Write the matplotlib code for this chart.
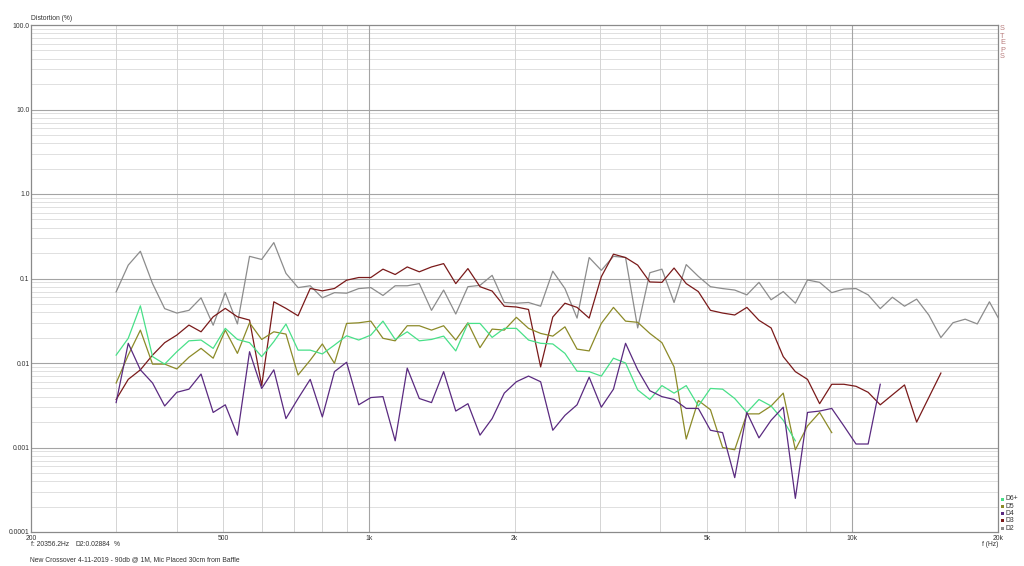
import numpy as np
import matplotlib
matplotlib.use('Agg')
from matplotlib import rcParams

rcParams['font.family'] = 'sans-serif'
rcParams['font.sans-serif'] = ['Liberation Sans', 'DejaVu Sans']

import matplotlib.pyplot as plt
from matplotlib.patches import Rectangle

# 1/12 octave steps from 300 Hz
freq = [300.0, 317.8, 336.7, 356.8, 378.0, 400.5, 424.3, 449.5, 476.2, 504.5, 534.5, 566.3,
        600.0, 635.7, 673.5, 713.5, 756.0, 800.9, 848.5, 899.0, 952.4, 1009, 1069, 1133,
        1200, 1271, 1347, 1427, 1512, 1602, 1697, 1798, 1905, 2018, 2138, 2265,
        2400, 2543, 2694, 2854, 3024, 3204, 3394, 3596, 3810, 4036, 4276, 4531,
        4800, 5085, 5388, 5708, 6048, 6407, 6788, 7192, 7619, 8073, 8553, 9061,
        9600, 10171, 10776, 11416, 12095, 12814, 13576, 14383, 15238, 16144, 17104, 18121,
        19198, 20356]

D2 = [0.0695, 0.144, 0.21, 0.087, 0.044, 0.039, 0.042, 0.059, 0.028, 0.068, 0.029, 0.183,
      0.168, 0.266, 0.115, 0.078, 0.082, 0.059, 0.068, 0.067, 0.076, 0.078, 0.063, 0.082,
      0.082, 0.087, 0.042, 0.073, 0.038, 0.080, 0.083, 0.109, 0.052, 0.051, 0.052, 0.047,
      0.122, 0.076, 0.034, 0.177, 0.125, 0.183, 0.177, 0.026, 0.117, 0.129, 0.052, 0.146,
      0.106, 0.080, 0.076, 0.073, 0.064, 0.090, 0.056, 0.070, 0.051, 0.096, 0.090, 0.068,
      0.075, 0.076, 0.064, 0.044, 0.060, 0.047, 0.057, 0.037, 0.020, 0.030, 0.033, 0.029,
      0.053, 0.02884]

D3 = [0.0037, 0.0064, 0.0083, 0.0124, 0.0174, 0.0214, 0.0281, 0.0234, 0.0352, 0.0443, 0.0352, 0.0322,
      0.0054, 0.053, 0.0443, 0.0362, 0.0762, 0.0714, 0.0762, 0.0955, 0.1027, 0.1027, 0.129, 0.1115,
      0.137, 0.120, 0.137, 0.150, 0.087, 0.131, 0.080, 0.071, 0.047, 0.046, 0.043, 0.009,
      0.035, 0.051, 0.0455, 0.034, 0.105, 0.194, 0.177, 0.144, 0.091, 0.090, 0.133, 0.087,
      0.070, 0.042, 0.039, 0.037, 0.0455, 0.032, 0.026, 0.0119, 0.0079, 0.0064, 0.0033, 0.0056,
      0.0056, 0.0053, 0.0045, 0.0032, 0.0042, 0.0055, 0.0020, 0.0039, 0.0076]

D4 = [0.0034, 0.0171, 0.0083, 0.0058, 0.0031, 0.0045, 0.0049, 0.0074, 0.0026, 0.0032, 0.0014, 0.0136,
      0.0050, 0.0083, 0.0022, 0.0038, 0.0064, 0.0023, 0.0079, 0.0102, 0.0032, 0.0039, 0.0040, 0.0012,
      0.0087, 0.0038, 0.0034, 0.0079, 0.0027, 0.0033, 0.0014, 0.0022, 0.0044, 0.0060, 0.0070, 0.0060,
      0.0016, 0.0024, 0.0032, 0.0068, 0.0030, 0.0049, 0.0171, 0.0083, 0.0047, 0.0040, 0.0037, 0.0029,
      0.0029, 0.0016, 0.0015, 0.00044, 0.0026, 0.0013, 0.0021, 0.0030, 0.00025, 0.0026, 0.0027, 0.0029,
      0.0018, 0.0011, 0.0011, 0.0056]

D5 = [0.0058, 0.0124, 0.0245, 0.0097, 0.0097, 0.0085, 0.0117, 0.0149, 0.0114, 0.0245, 0.013, 0.0299,
      0.019, 0.0234, 0.022, 0.0072, 0.0108, 0.0168, 0.0099, 0.0294, 0.0299, 0.0313, 0.0196, 0.0183,
      0.0276, 0.0276, 0.0245, 0.0276, 0.0187, 0.0299, 0.0152, 0.0252, 0.0245, 0.0347, 0.0257, 0.0224,
      0.0208, 0.0268, 0.0146, 0.0139, 0.0294, 0.0455, 0.0313, 0.0303, 0.0224, 0.0174, 0.0090, 0.00126,
      0.0036, 0.0028, 0.0010, 0.00094, 0.0025, 0.0025, 0.0031, 0.0044, 0.00094, 0.0018, 0.0026, 0.0015]

D6 = [0.0124, 0.0196, 0.0475, 0.0119, 0.0097, 0.0136, 0.0183, 0.0187, 0.0149, 0.0257, 0.019, 0.0174,
      0.0119, 0.0179, 0.0289, 0.0142, 0.0142, 0.0128, 0.0163, 0.021, 0.0187, 0.0214, 0.0313, 0.019,
      0.0234, 0.0183, 0.019, 0.0208, 0.0139, 0.0294, 0.0294, 0.0201, 0.0257, 0.0257, 0.0187, 0.0171,
      0.0168, 0.013, 0.0080, 0.0079, 0.0070, 0.0114, 0.010, 0.0048, 0.0037, 0.0054, 0.0044, 0.0054,
      0.0031, 0.0050, 0.0049, 0.0038, 0.0026, 0.0037, 0.0031, 0.0021, 0.0012]

xTicks = [200, 500, 1000, 2000, 5000, 10000, 20000]
xTickLabels = ['200', '500', '1k', '2k', '5k', '10k', '20k']
yTicks = [0.0001, 0.001, 0.01, 0.1, 1, 10, 100]
yTickLabels = ['0.0001', '0.001', '0.01', '0.1', '1.0', '10.0', '100.0']

legendNames = ['D6+', 'D5', 'D4', 'D3', 'D2']

colD2 = '#8c8c8c'
colD3 = '#7a1a1a'
colD4 = '#5a2a80'
colD5 = '#8c8a28'
colD6 = '#48e088'

textCol = '#333333'
fs = 4.9
W, H = 1024.0, 566.0


def px(x, y):
    # pixel coords -> figure fraction
    return x / W, 1 - y / H


def drawGrid(ax):
    for dec in [0.0001, 0.001, 0.01, 0.1, 1, 10]:
        for m in range(2, 10):
            ax.axhline(dec * m, color='#dadada', lw=0.6, zorder=0)
    for v in [0.001, 0.01, 0.1, 1, 10]:
        ax.axhline(v, color='#a4a4a4', lw=0.8, zorder=1)

    for dec in [100, 1000, 10000]:
        for m in range(2, 10):
            f = dec * m
            if 200 < f < 20000:
                ax.axvline(f, color='#d4d4d4', lw=0.7, zorder=0)
    for f in [1000, 10000]:
        ax.axvline(f, color='#a4a4a4', lw=0.8, zorder=1)


def drawCurves(ax):
    # order: D2 at the back
    ax.plot(freq[:len(D2)], D2, color=colD2, lw=0.9, zorder=3)
    ax.plot(freq[:len(D3)], D3, color=colD3, lw=0.9, zorder=4)
    ax.plot(freq[:len(D5)], D5, color=colD5, lw=0.9, zorder=5)
    ax.plot(freq[:len(D6)], D6, color=colD6, lw=0.9, zorder=6)
    ax.plot(freq[:len(D4)], D4, color=colD4, lw=0.9, zorder=7)


def addTexts(fig):
    fig.text(*px(31, 19), 'Distortion (%)', fontsize=fs, color=textCol, ha='left', va='center')
    for i, ch in enumerate('STEPS'):
        fig.text(*px(1000, 29 + i * 7), ch, fontsize=5.3, color='#b87c7c', ha='left', va='center')

    fig.text(*px(990, 545), 'f (Hz)', fontsize=fs, color=textCol, ha='center', va='center')
    fig.text(*px(31, 545), 'f: 20356.2Hz', fontsize=fs, color=textCol, ha='left', va='center')
    fig.text(*px(75, 545), 'D2:0.02884', fontsize=fs, color=textCol, ha='left', va='center')
    fig.text(*px(114, 545), '%', fontsize=fs, color=textCol, ha='left', va='center')
    fig.text(*px(30, 560), 'New Crossover 4-11-2019 - 90db @ 1M, Mic Placed 30cm from Baffle',
             fontsize=fs, color=textCol, ha='left', va='center')

    legCols = [colD6, colD5, colD4, colD3, colD2]
    for i, name in enumerate(legendNames):
        yy = 499 + i * 7.3
        x0, y0 = px(1000.5, yy + 1.5)
        fig.add_artist(Rectangle((x0, y0), 3 / W, 3 / H, transform=fig.transFigure,
                                 facecolor=legCols[i], edgecolor='none'))
        fig.text(*px(1005, yy), name, fontsize=fs, color=textCol, ha='left', va='center')


def main():
    fig = plt.figure(figsize=(10.24, 5.66), dpi=100)
    ax = fig.add_axes([31 / W, 34 / H, 967 / W, 507 / H])
    ax.set_xscale('log')
    ax.set_yscale('log')
    ax.set_xlim(200, 20000)
    ax.set_ylim(0.0001, 100)

    drawGrid(ax)
    drawCurves(ax)

    ax.set_xticks(xTicks)
    ax.set_xticklabels(xTickLabels)
    ax.set_xticks([], minor=True)
    ax.set_yticks(yTicks)
    ax.set_yticklabels(yTickLabels)
    ax.set_yticks([], minor=True)
    ax.tick_params(axis='both', length=0, labelsize=fs, labelcolor=textCol)
    ax.tick_params(axis='x', pad=2)
    ax.tick_params(axis='y', pad=1)

    for s in ax.spines.values():
        s.set_color('#8a8a8a')
        s.set_linewidth(0.9)

    addTexts(fig)
    fig.savefig('out.png', dpi=100)


if __name__ == '__main__':
    main()
